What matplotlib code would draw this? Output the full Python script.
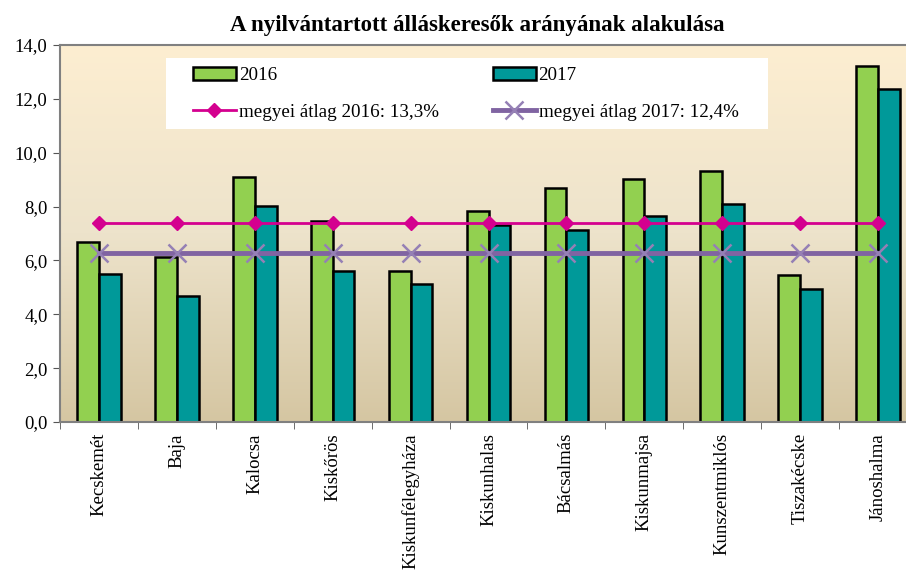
import numpy as np
import matplotlib
matplotlib.use("Agg")
import matplotlib.pyplot as plt
from matplotlib.colors import LinearSegmentedColormap
from matplotlib.patches import Rectangle

# data
varosok = ["Kecskemét", "Baja", "Kalocsa", "Kiskőrös", "Kiskunfélegyháza",
           "Kiskunhalas", "Bácsalmás", "Kiskunmajsa", "Kunszentmiklós",
           "Tiszakécske", "Jánoshalma"]
ertek_2016 = [6.70, 6.14, 9.10, 7.48, 5.61, 7.85, 8.70, 9.02, 9.33, 5.46, 13.22]
ertek_2017 = [5.50, 4.69, 8.02, 5.61, 5.12, 7.30, 7.14, 7.65, 8.11, 4.95, 12.37]
atlag_2016 = 7.38
atlag_2017 = 6.29
y_ticks = [0, 2, 4, 6, 8, 10, 12, 14]

plt.rcParams['font.family'] = ['Liberation Serif', 'DejaVu Serif']

W, H = 906, 570
fig = plt.figure(figsize=(W / 100, H / 100), dpi=100)
# the plot area runs a bit past the right edge of the picture, like the original
ax = fig.add_axes([60 / W, 1 - 422 / H, 857 / W, 377 / H])

x = np.arange(len(varosok))
w = 0.28

# background gradient
grad = LinearSegmentedColormap.from_list("bg", ["#d5c6a2", "#ede3cb", "#fdeed1"])
ax.imshow(np.linspace(0, 1, 256).reshape(-1, 1), cmap=grad, aspect="auto",
          extent=[-0.5, len(varosok) - 0.5, 0, 14], origin="lower", zorder=0)

b16 = ax.bar(x - w / 2, ertek_2016, w, color="#92d050", edgecolor="black", linewidth=1.8,
             label="2016", zorder=2)
b17 = ax.bar(x + w / 2, ertek_2017, w, color="#009999", edgecolor="black", linewidth=1.8,
             label="2017", zorder=2)
l16, = ax.plot(x, [atlag_2016] * len(x), color="#d4008f", lw=2, marker="D", ms=7,
               label="megyei átlag 2016: 13,3%", zorder=3)
l17, = ax.plot(x, [atlag_2017] * len(x), color="#8064a2", lw=3.5, marker="x", ms=13,
               mew=1.8, mec="#9580b5", label="megyei átlag 2017: 12,4%", zorder=3)

ax.set_xlim(-0.5, len(varosok) - 0.5)
ax.set_ylim(0, 14)
ax.set_yticks(y_ticks)
ax.set_yticklabels([f"{v:.1f}".replace(".", ",") for v in y_ticks], fontsize=13.5)
ax.set_xticks(x)
ax.set_xticklabels(varosok, rotation=90, fontsize=13.5)
ax.set_xticks(np.arange(len(varosok) + 1) - 0.5, minor=True)
ax.tick_params(axis="x", which="major", length=0, pad=8)
ax.tick_params(axis="x", which="minor", length=5, color="#555555", direction="out")
ax.tick_params(axis="y", length=5, color="#555555", pad=4)

for s in ["left", "top", "bottom"]:
    ax.spines[s].set_color("#808080")
    ax.spines[s].set_linewidth(1.5)
ax.spines["right"].set_visible(False)

# white legend box, drawn on its own
fig.patches.append(Rectangle((166 / W, 1 - 129 / H), 602 / W, 71 / H,
                             transform=fig.transFigure, facecolor="white",
                             edgecolor="none", zorder=1))
ax.set_zorder(0)
ax.patch.set_visible(False)
fig.patch.set_facecolor("white")

leg = fig.legend([b16, l16, b17, l17],
                 ["2016", "megyei átlag 2016: 13,3%", "2017", "megyei átlag 2017: 12,4%"],
                 ncol=2, loc="upper left", bbox_to_anchor=(193 / W, 1 - 67 / H),
                 frameon=False, fontsize=13.7, handlelength=2.25, handletextpad=0.15,
                 columnspacing=2.85, borderpad=0, borderaxespad=0, labelspacing=1.0)
leg.set_zorder(5)

fig.text(477 / W, 1 - 31 / H, "A nyilvántartott álláskeresők arányának alakulása",
         ha="center", va="baseline", fontsize=16.5, fontweight="bold")

fig.savefig("out.png", dpi=100)
